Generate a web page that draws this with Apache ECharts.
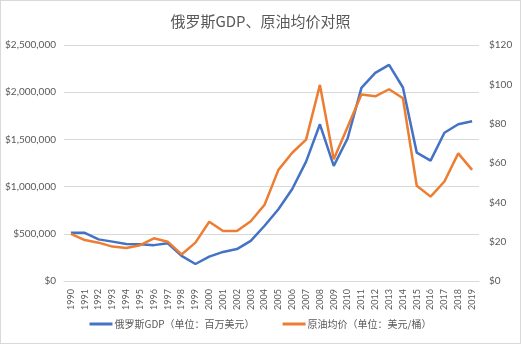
<!DOCTYPE html>
<html><head><meta charset="utf-8">
<script src="https://cdn.jsdelivr.net/npm/echarts@6/dist/echarts.min.js"></script>
<style>html,body{margin:0;padding:0;background:#fff;}#c{width:521px;height:344px;box-sizing:border-box;border:1px solid #d9d9d9;}</style>
</head><body><div id="c"></div>
<script>
const years = ['1990','1991','1992','1993','1994','1995','1996','1997','1998','1999','2000','2001','2002','2003','2004','2005','2006','2007','2008','2009','2010','2011','2012','2013','2014','2015','2016','2017','2018','2019'];
const gdp = [511000,510000,441000,417000,392000,390000,380000,400000,266000,180000,258000,308000,338000,425000,585000,760000,975000,1265000,1660000,1220000,1510000,2045000,2205000,2290000,2050000,1360000,1275000,1570000,1660000,1692000];
const oil = [24,20.8,19.5,17.5,16.8,18.2,21.7,20.0,13.5,19.5,30.1,25.4,25.4,30.4,38.8,56.5,65.2,71.9,99.7,61.9,78.3,94.8,93.9,97.5,92.9,48.4,42.9,50.6,64.9,56.5];
const gdpName = '俄罗斯GDP（单位：百万美元）';
const oilName = '原油均价（单位：美元/桶）';
const chart = echarts.init(document.getElementById('c'));
const cjk = '"Noto Sans CJK SC", sans-serif';
const num = 'Lato, "Noto Sans", sans-serif';
chart.setOption({
  animation:false,
  title:{text:'俄罗斯GDP、原油均价对照',left:'center',top:8,textStyle:{fontFamily:cjk,fontSize:15,fontWeight:'normal',color:'#595959'}},
  legend:{bottom:9,left:'center',itemWidth:23,itemHeight:3,itemGap:28,icon:'rect',
    textStyle:{fontFamily:cjk,fontSize:10,color:'#595959',padding:[0,0,0,-3]},
    data:[{name:gdpName,icon:'rect'},{name:oilName,icon:'rect'}]},
  grid:{left:63,right:41,top:44,bottom:62},
  xAxis:{type:'category',data:years,boundaryGap:true,
    axisLine:{lineStyle:{color:'#d9d9d9'}},axisTick:{show:false},
    axisLabel:{rotate:90,interval:0,fontSize:9,color:'#595959',fontFamily:num,margin:8}},
  yAxis:[
    {type:'value',min:0,max:2500000,interval:500000,
     axisLine:{show:false},axisTick:{show:false},
     splitLine:{lineStyle:{color:'#d9d9d9'}},
     axisLabel:{fontSize:10,color:'#595959',fontFamily:num,margin:8,formatter:v=>'$'+v.toLocaleString('en-US')}},
    {type:'value',min:0,max:120,interval:20,
     axisLine:{show:false},axisTick:{show:false},splitLine:{show:false},
     axisLabel:{fontSize:10,color:'#595959',fontFamily:num,margin:10,formatter:v=>'$'+v}}
  ],
  series:[
    {name:gdpName,type:'line',data:gdp,yAxisIndex:0,symbol:'none',lineStyle:{width:2.5,color:'#4472C4'},itemStyle:{color:'#4472C4'}},
    {name:oilName,type:'line',data:oil,yAxisIndex:1,symbol:'none',lineStyle:{width:2.5,color:'#ED7D31'},itemStyle:{color:'#ED7D31'}}
  ]
});
</script></body></html>
